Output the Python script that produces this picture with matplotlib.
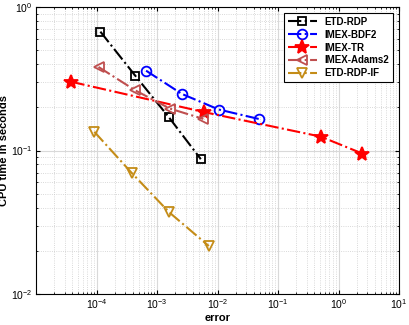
import numpy as np
import matplotlib
matplotlib.use('Agg')
import matplotlib.pyplot as plt
from matplotlib import font_manager as fm

# keep only the regular-width Liberation Sans files (drop the Narrow variant)
fm.fontManager.ttflist = [f for f in fm.fontManager.ttflist
                          if 'Narrow' not in f.fname]
plt.rcParams['font.family'] = ['Liberation Sans', 'DejaVu Sans']

# error / CPU time pairs
err_rdp = [1.16e-4, 4.35e-4, 1.58e-3, 5.3e-3]
cpu_rdp = [0.673, 0.333, 0.170, 0.087]
err_bdf2 = [6.6e-4, 2.57e-3, 1.05e-2, 4.93e-2]
cpu_bdf2 = [0.360, 0.248, 0.193, 0.1655]
err_tr = [3.85e-5, 6.05e-3, 0.507, 2.47]
cpu_tr = [0.301, 0.185, 0.125, 0.0953]
err_ab2 = [1.08e-4, 4.4e-4, 1.63e-3, 5.83e-3]
cpu_ab2 = [0.382, 0.262, 0.196, 0.166]
err_if = [9.2e-5, 3.79e-4, 1.59e-3, 7.19e-3]
cpu_if = [0.135, 0.070, 0.0371, 0.0216]

labels = ['ETD-RDP', 'IMEX-BDF2', 'IMEX-TR', 'IMEX-Adams2', 'ETD-RDP-IF']
colors = ['black', 'blue', 'red', '#BF4F4F', '#C48C17']
markers = ['s', 'o', '*', '<', 'v']
msizes = [5.5, 7, 10, 7.5, 7.5]

fig = plt.figure(figsize=(4.09, 3.25), dpi=100)
ax = fig.add_axes([36 / 409, 31 / 325, 363 / 409, 287 / 325])

series = [(err_rdp, cpu_rdp), (err_bdf2, cpu_bdf2), (err_tr, cpu_tr),
          (err_ab2, cpu_ab2), (err_if, cpu_if)]
for (x, y), lab, c, m, ms in zip(series, labels, colors, markers, msizes):
    mfc = c if m == '*' else 'none'
    ax.loglog(x, y, ls='-.', lw=1.5, color=c, marker=m, ms=ms,
              mfc=mfc, mec=c, mew=1.3, label=lab)

ax.set_xlim(1.0e-5, 10)
ax.set_ylim(1e-2, 1)
ax.set_xticks([1e-4, 1e-3, 1e-2, 1e-1, 1e0, 1e1])
ax.set_yticks([1e-2, 1e-1, 1e0])
ax.grid(True, which='major', color='#d9d9d9', lw=0.8)
ax.grid(True, which='minor', color='#cccccc', lw=0.6, ls=':')
ax.tick_params(which='both', direction='in', top=True, right=True,
               labelsize=7.5, pad=2.5)
ax.tick_params(which='major', length=3)
ax.tick_params(which='minor', length=1.5)
for s in ax.spines.values():
    s.set_linewidth(0.8)

ax.set_xlabel('error', fontsize=8, fontweight='bold', labelpad=1)
ax.set_ylabel('CPU time in seconds', fontsize=8, fontweight='bold', labelpad=1)

leg = ax.legend(loc='upper right', fancybox=False, framealpha=1,
                edgecolor='black', prop={'weight': 'bold', 'size': 7},
                handlelength=3, borderaxespad=0.6, labelspacing=0.3)
leg.get_frame().set_linewidth(0.8)

fig.savefig('out.png', dpi=100)
